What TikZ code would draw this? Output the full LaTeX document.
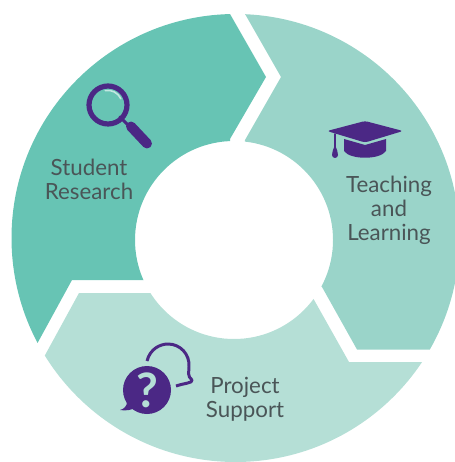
\documentclass[tikz,border=0pt]{standalone}
\usepackage{fontspec}
\setmainfont{Lato}
\definecolor{segA}{HTML}{67C4B4}
\definecolor{segB}{HTML}{9AD4C9}
\definecolor{segC}{HTML}{B5DFD6}
\definecolor{iconc}{HTML}{4B2885}
\definecolor{labelc}{HTML}{4A5557}
\tikzset{
  lab/.style={text=labelc,font=\fontsize{12.7}{13.6}\selectfont,align=center,inner sep=0pt},
  iconfill/.style={fill=iconc,draw=none},
  iconline/.style={draw=iconc,line cap=round,line join=round}
}
\newcommand{\ringfill}[2]{%
  \begin{scope}
    \clip #2;
    \fill[#1,even odd rule] (235.5,238) circle (224) (234,240) circle (99);
  \end{scope}}
\begin{document}
\begin{tikzpicture}[x=0.02cm,y=-0.02cm]
\useasboundingbox (0,0) rectangle (454,462);
\ringfill{segA}{(230,14) -- (266,77) -- (230,139) -- (230,240) -- (144,280) -- (72,280) -- (37,344) -- (-50,344) -- (-50,-50) -- (230,-50) -- cycle}
\ringfill{segB}{(245,14) -- (281,77) -- (245,140) -- (234,240) -- (322,287) -- (357,349.5) -- (500,349.5) -- (500,-50) -- (245,-50) -- cycle}
\ringfill{segC}{(44,357) -- (79,293) -- (151,293) -- (234,240) -- (313,298) -- (349,362) -- (500,362) -- (500,500) -- (-50,500) -- (-50,357) -- cycle}
% magnifier
\draw[iconline,line width=5.2*0.5669pt] (108,105) circle (19);
\draw[draw=segA!40!white,line cap=round,line width=0.9pt] (105.2,90.6) arc[start angle=-100,end angle=-25,radius=14.5];
\draw[iconline,line width=3*0.5669pt] (120,117) -- (129,126);
\draw[iconline,line width=10*0.5669pt] (131,126.5) -- (147,143.5);
% mortarboard
\fill[iconfill,rounded corners=1.6] (327,131) -- (365,121) -- (403,131) -- (365,142.5) -- cycle;
\fill[iconfill] (344,139) -- (365,145) -- (386,139) -- (386,151) .. controls (380,160) and (350,160) .. (344,151) -- cycle;
\draw[iconline,line width=1.0pt] (335,134) -- (335,150);
\fill[iconfill] (335,145) .. controls (337,150) and (338,152) .. (338,155) arc[start angle=0,end angle=180,radius=3] .. controls (332,152) and (333,150) .. (335,145) -- cycle;
% question bubble
\fill[iconfill] (147,390) circle (24);
\fill[iconfill] (127,402) .. controls (127,406) and (124,409) .. (120,410) .. controls (126,411) and (131,410) .. (135,408) -- cycle;
\node[inner sep=0pt,text=segC,font=\fontsize{27}{27}\selectfont\bfseries] (q) at (147,390) {?};
\draw[iconline,line width=1.7pt,line cap=butt] (147,361) .. controls (150,349) and (160,344) .. (168,344) .. controls (180,344) and (190,354) .. (189,367) .. controls (189,372) and (187,376) .. (192,380) .. controls (193,383) and (185,383) .. (176,386);
% labels
\node[lab] (research) at (89,179) {Student\\Research};
\node[lab] (teaching) at (389,210) {Teaching\\and\\Learning};
\node[lab] (support) at (245,399) {Project\\Support};
\end{tikzpicture}
\end{document}
